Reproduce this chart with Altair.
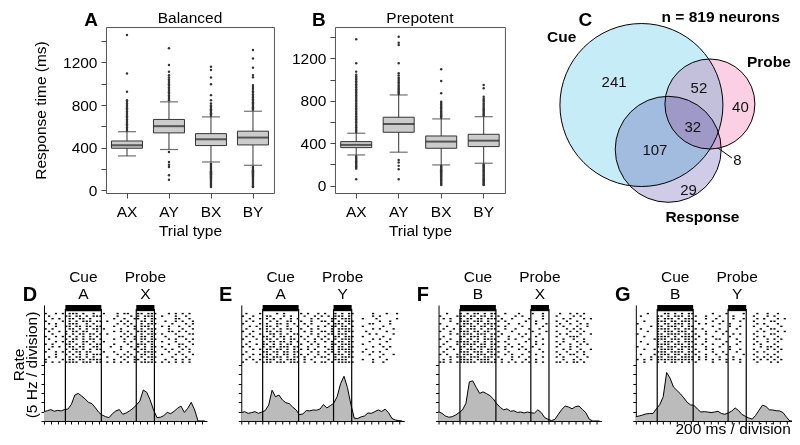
import altair as alt
import pandas as pd

FONT = "Liberation Sans"
FS = 15.5

# ---------------- Panels A & B : response times ----------------
trial_types = ["AX", "AY", "BX", "BY"]
rt_ticks = [0, 200, 400, 600, 800, 1000, 1200, 1400]

bal_q1 = [395, 539, 420, 426]
bal_median = [423, 602, 479, 495]
bal_q3 = [463, 665, 532, 555]
bal_lo = [323, 383, 266, 235]
bal_hi = [550, 830, 689, 742]
bal_out_ax = [560, 575, 590, 605, 620, 635, 650, 665, 680, 695, 710, 725, 740, 755,
              770, 785, 800, 815, 830, 846, 924, 1096, 1457]
bal_out_ay = [845, 860, 875, 890, 905, 920, 935, 950, 965, 980, 995, 1010, 1025, 1040,
              1059, 1080, 1112, 1175, 1332, 360, 266, 240, 219, 141, 100]
bal_out_bx = [700, 712, 724, 736, 748, 760, 772, 784, 796, 815, 846, 893, 996, 1059, 1128,
              1159, 250, 240, 230, 220, 210, 200, 190, 180, 170, 160, 150, 140, 130, 120,
              110, 100, 90, 80, 70, 60, 50, 40, 31]
bal_out_by = [755, 767, 779, 791, 803, 815, 827, 840, 855, 870, 885, 900, 915, 930, 950,
              970, 987, 1060, 1081, 1150, 1237, 1316, 219, 209, 199, 189, 179, 169, 159,
              149, 139, 129, 119, 109, 99, 89, 79, 69, 59, 49, 39, 31]

pre_q1 = [358, 503, 352, 368]
pre_median = [384, 581, 415, 424]
pre_q3 = [415, 645, 468, 484]
pre_lo = [289, 315, 195, 211]
pre_hi = [494, 855, 629, 650]
pre_out_ax = [505, 520, 535, 550, 565, 580, 595, 610, 625, 640, 655, 670, 685, 700, 715,
              730, 745, 760, 775, 790, 805, 820, 835, 850, 865, 880, 895, 910, 925, 940,
              955, 970, 985, 1000, 1015, 1030, 1045, 1075, 1155, 1380,
              278, 266, 254, 242, 230, 218, 206, 194, 182, 170, 160, 60]
pre_out_ay = [865, 878, 891, 904, 917, 930, 945, 960, 975, 990, 1005, 1020, 1040, 1059,
              1154, 1326, 1348, 1404, 242, 217, 186, 155, 60]
pre_out_bx = [640, 652, 664, 676, 688, 700, 712, 724, 736, 750, 765, 780, 792, 871, 987,
              1097, 185, 175, 165, 155, 145, 135, 125, 115, 105, 95, 85, 75, 65, 55, 45,
              35, 25, 15, 5]
pre_out_by = [660, 672, 684, 696, 708, 720, 732, 745, 760, 775, 790, 805, 820, 839, 918,
              949, 200, 190, 180, 170, 160, 150, 140, 130, 120, 110, 100, 90, 80, 70, 60,
              50, 40, 30, 20, 10, 5]

# ---------------- Panel C : Venn diagram ----------------
venn_sets = ["Cue", "Probe", "Response"]
venn_cx = [75.5, 144.0, 102.3]
venn_cy = [78.0, 77.0, 122.3]
venn_r = [81.5, 45.0, 53.0]
venn_fill = ["#c6ecf7", "#fbd0e4", "#d0cbe7"]
venn_counts = ["241", "52", "40", "32", "107", "29", "8"]
venn_count_x = [48.2, 133.0, 174.5, 126.8, 89.0, 122.7, 171.5]
venn_count_y = [54.7, 61.3, 79.7, 99.7, 123.0, 163.0, 133.0]
venn_names = ["Cue", "Probe", "Response", "n = 819 neurons"]
venn_name_x = [-4.3, 203.0, 136.5, 154.8]
venn_name_y = [14.7, 39.7, 195.0, -4.6]

# ---------------- Panels D-G : rasters and PSTHs ----------------
time_ms = list(range(0, 4800, 100))
time_ticks = list(range(0, 4601, 200))
rate_ticks = [0, 5, 10, 15, 20, 25, 30]
window_start = [625, 2695]
window_end = [1675, 3225]
window_name = ["Cue", "Probe"]

psth_D = [5.0, 5.5, 6.1, 5.2, 5.7, 5.4, 6.1, 6.4, 8.9, 13.9, 14.8, 13.4, 11.8, 10.0, 9.3, 7.1,
          4.6, 3.2, 2.3, 1.8, 3.9, 5.4, 6.1, 3.6, 4.3, 5.4, 6.8, 8.6, 10.7, 16.6, 15.4, 11.3,
          5.9, 1.8, 2.0, 2.9, 4.6, 3.9, 5.2, 6.8, 8.0, 4.6, 6.8, 10.0, 5.9, 0, 0, 0]
psth_E = [4.5, 5.0, 4.1, 4.5, 5.0, 4.1, 4.8, 5.6, 8.5, 16.5, 13.0, 13.9, 11.3, 9.8, 9.3, 7.5,
          5.9, 3.4, 3.8, 5.6, 5.4, 5.9, 5.8, 6.4, 8.8, 7.0, 8.2, 9.5, 13.0, 20.0, 24.0, 18.0,
          9.0, 1.5, 1.3, 2.2, 2.7, 4.3, 4.1, 5.0, 5.9, 5.1, 6.3, 4.5, 1.4, 0.5, 0.2, 0]
psth_F = [5.0, 4.1, 2.7, 2.0, 2.3, 3.2, 4.5, 5.9, 9.5, 21.0, 21.5, 18.0, 14.8, 15.6, 14.7, 13.6,
          11.8, 9.2, 7.3, 6.0, 6.5, 5.2, 5.5, 4.6, 4.8, 4.3, 4.8, 4.4, 4.2, 6.0, 4.5, 1.8,
          0.9, 0.2, 0.9, 3.6, 6.2, 8.0, 7.5, 6.5, 7.7, 8.0, 6.2, 4.5, 1.0, 0, 0, 0]
psth_G = [2.3, 2.7, 3.2, 3.8, 4.0, 4.0, 6.5, 8.8, 13.0, 26.0, 23.0, 18.2, 16.4, 14.6, 12.4, 10.0,
          8.6, 8.4, 6.4, 4.8, 5.0, 4.8, 4.5, 4.8, 5.2, 4.0, 3.6, 4.3, 5.3, 7.0, 5.6, 3.5,
          2.5, 1.6, 1.0, 3.0, 5.8, 8.5, 7.8, 6.0, 5.9, 5.5, 5.4, 4.5, 2.0, 0, 0, 0]

# one string per trial, one character per 100 ms bin ("x" = spike)
raster_D = [
    "x..x.x.x xx.x..x. .x...x.x x..xx.xx x...x.x. x.x.....",
    ".x....xx .xx.x.xx x....x.. .x.x.xxx ..x...x. .x......",
    "..x.x..x x.xx.x.. ....x..x ..xx.x.x x.....xx ..x.....",
    "x....x.x .x.xxx.x x.x...x. x...xx.x ...x..x. x..x....",
    ".x.x...x xx..x.x. .....x.x .x..x.xx x....x.. .x.x....",
    "...x..xx .xx.xx.x x...x... x.x.xxx. ..x.x..x ..x.....",
    "x.x....x x.x.x.xx .x....x. ..x.x.xx x...x... x..x....",
    ".x..x.x. xx.xx..x ....x.x. x..xxx.x ....xx.x .x......",
    "..x...x. x.xx.xx. x.x....x .x..x.xx x.x...x. ..xx....",
    "x..x.x.x .x.x.x.x ......x. x.x.xx.x ...x...x x.......",
    ".x....x. xx.x.xx. x...x..x ..x.xx.x x...x.x. .x.x....",
    "...x.x.x x..xx.x. .x.....x .x..x.xx ..x...x. ..x.....",
    "x.x...xx .x.x.x.x x...x... x..xxx.x ....x..x x..x....",
    "..x.x..x x.xx..xx ...x..x. .x.x.x.x x.x....x .x......",
    ".x....x. xx.x.x.x x.....x. ..x.xx.x ...x.x.. x.x.....",
    "x..x.x.x .xx.xx.. .x..x... x..x.xxx x...x..x ..x.....",
    "...x..x. x.x.x.xx x....x.x .x..xx.x ..x...x. x..x....",
    ".x.x...x .xx.x.x. ..x...x. x.x.x.xx x....x.. .x......",
    "x....x.x x.xx.xxx x...x..x ..xx.x.x ...x..x. x.x.....",
    "x.x.x.xx xx.xxx.x x.x.x.x. x.x.xxxx x.x.x.x. x.x.....",
]
raster_E = [
    ".x...x.. ..x.x... .x.x..x. x..x.x.x x.....x. ..x..x..",
    "x..x...x x...x.x. ..x..x.x .x.xxx.x ......x. x.......",
    "..x..x.x .x.x..x. x...x.x. ..xx.xxx ...x...x .....x..",
    ".x.x.... x.x..xx. .x..x..x x.x.x.xx x....... x..x....",
    "x....x.x ..xx.x.x ..x.x... .x.xxx.x .....xx. ...x....",
    "..x.x..x x.x..x.. x..x..x. x.xx.xx. x..x.... .x......",
    ".x...x.x .x.x.xx. .x..x.x. ..x.xxxx ......x. x...x...",
    "x..x...x x.xx..x. ..x.x..x x.x.x.xx x...x... ..x.....",
    "..x..x.. xx.x.x.x x...x.x. .xx.xxx. .....x.x ....x...",
    ".x.x..xx .x.xx.x. .x.x..x. x..xx.xx x..x.... .x......",
    "x...x..x x.x.x.xx ..x..x.x .x.x.xxx ......x. x..x....",
    "..x...x. xx.xx.x. x..x.x.. x.x.xx.x x....x.. ..x.....",
    ".x..x.xx .x.x.xx. .x..x.x. ..xx.xxx ...x.... x.......",
    "x.x...x. xx.xxx.x x..x..x. x.x.xx.x x.....x. .x.x....",
    "...x.x.x x.xx.x.x .x.x.x.. .xx.xxxx ....x... ..x.....",
    ".x....xx .xx.xx.x x...x.x. x.x.x.xx x..x..x. x.......",
    "x..x.x.x x.x.xx.x .x.x..x. .x.xxx.x .....x.. .x..x...",
    "..x...xx .xxx.x.x x.x..x.x x..x.xxx x....... x.......",
    ".x.x.x.x xx.x.xxx ..x.x... .x.xxxx. ...x..x. ..x.....",
    "x...x.xx x.xxx.xx x.x..x.x x.x.xxxx x.....x. .x......",
]
raster_F = [
    "..x...x. x.xx.x.x x..x...x ...x..x. ...x..x. x.x.....",
    "x....xxx .xx.xx.x .x....x. x.....x. ..x....x .x......",
    ".x.x..x. xx.xx.xx x.x..x.. ..x...x. ....x.x. ..x.x...",
    "...x..xx x.xxx.x. .x.x.... .x..x... ..x..x.. x.......",
    "x....x.x xx.x.xxx x...x..x ....x..x ...x..x. .x.x....",
    "..x...xx .xx.xx.x .x.x.... x.....x. ..x.x... x..x....",
    ".x..x.x. xxx.x.xx x..x..x. ..x..x.. .....x.x .x......",
    "x..x..xx x.xx.xx. .x...x.. ...x...x ..x...x. x.x.....",
    "...x.x.x xx.xxx.x x.x....x .x...x.. ...x.x.. .x..x...",
    ".x....xx .xxx.x.x .x..x... x...x... ..x...xx x.......",
    "x..x..x. xx.x.xxx x...x.x. ..x...x. ....x..x ..x.....",
    "..x..xxx x.xx.x.x .x.x.... .x..x... ..x.x... x.x.....",
    ".x...x.x xxx.xx.x x...x..x ....x.x. ...x..x. .x.x....",
    "x..x..xx .x.xxx.x .x.x.x.. x..x.... ..x...x. x.......",
    "..x.x.x. xxx.x.xx x..x...x .x...x.. ....x.x. .x..x...",
    ".x....xx x.xxx.xx .x..x... ..x...x. ..x..x.. x.x.....",
    "x.x..x.x xx.xxx.x x..x.x.. x...x... ...x..xx ..x.....",
    "...x.xxx .xxx.xxx .x...x.x ..x...x. ..x.x... x..x....",
    ".x.x..xx xx.xxxx. x.x..x.. .x..x... ....x..x .x......",
    "xx.x.xxx xxx.xxxx x.x.x.x. x.x.x.x. ..xx.x.x x.x.....",
]
raster_G = [
    "...x.... xx.x.x.x x.....x. ..x....x ...x..x. .x......",
    ".x....xx .x.xxx.x .x..x... x...x... ..x...x. x.......",
    "......x. xxx.x.xx x...x..x ....x..x ...x.x.. .x.x....",
    "..x...xx x.xx.xxx .x....x. .x....x. ..x....x x.......",
    "x.....x. xx.xxx.x ..x.x... x..x.... ...x.x.. .x......",
    "....x.xx .xxx.x.x x.....x. ...x..x. ..x...x. ..x.....",
    ".x....xx xx.xx.xx .x.x.... x....x.. ....x..x x.......",
    "...x..x. xxx.xxx. x...x..x ..x..... ...x.x.. .x.x....",
    "x.....xx .xxxx.xx .x..x... .x..x.x. ..x....x x.......",
    "..x...xx xx.x.xxx x.x...x. ...x.... ...x.x.. .x......",
    ".....xxx x.xxx.xx .x..x..x x....x.. ..x...x. x.x.....",
    ".x....x. xxx.x.xx x...x... ..x...x. ...x..x. .x......",
    "...x..xx xx.xxx.x .x.x..x. .x...x.. ..x.x... x.......",
    "x.....xx .xxx.xxx x...x... x..x.... ....x.xx .x......",
    "..x..x.x xxx.xx.x .x..x.x. ...x..x. ..x...x. x.x.....",
    "......xx x.xxxx.x x.x...x. .x...x.. ...x.x.. .x......",
    ".x...x.x xx.xx.xx .x..x..x ..x....x ..x...x. x.......",
    "....x.xx .xxx.xxx x.x.x... x...x... ...x.x.x .x......",
    "x.x.x.xx xxxxxxxx x.x.x.x. x.x.x.x. ..x.x.x. x.x.....",
    "..x...x. x.xx.x.x .x....x. ..x...x. ...x...x .x......",
]


# ---------------- helpers ----------------
def anchor(x, y):
    """Invisible 1x1 rect that pins the extent of the drawing."""
    d = pd.DataFrame({"a": [0]})
    return alt.Chart(d).mark_rect(opacity=0).encode(
        x=alt.value(x), x2=alt.value(x + 1), y=alt.value(y), y2=alt.value(y + 1))


def text_layer(s, x, y, size=FS, weight="normal", angle=0, align="center"):
    d = pd.DataFrame({"s": [s]})
    kw = dict(fontSize=size, fontWeight=weight, align=align, baseline="alphabetic", color="black")
    if angle:
        kw["angle"] = angle
    return alt.Chart(d).mark_text(**kw).encode(text="s:N", x=alt.value(x), y=alt.value(y))


def box_panel(q1, med, q3, lo, hi, outs, ydom, name, letter, letter_dx, ytitle, width):
    summary = pd.DataFrame({"type": trial_types, "q1": q1, "med": med, "q3": q3,
                            "lo": lo, "hi": hi})
    outliers = pd.DataFrame([{"type": t, "rt": v}
                             for t, vals in zip(trial_types, outs) for v in vals])
    xenc = alt.X("type:N", sort=trial_types, title="Trial type",
                 scale=alt.Scale(domain=trial_types, paddingInner=0, paddingOuter=0),
                 axis=alt.Axis(labelAngle=0, labelFontSize=FS, labelColor="black",
                               labelPadding=6.5, tickSize=5, tickColor="#444444",
                               domain=False, grid=False, titleFontSize=FS,
                               titleFontWeight="normal", titleColor="black",
                               titlePadding=4, bandPosition=0.5))
    ysc = alt.Scale(domain=ydom, nice=False, zero=False)
    yax = alt.Axis(values=rt_ticks, format="d",
                   labelExpr="datum.value % 400 == 0 ? datum.label : ''",
                   labelFontSize=FS, labelColor="black", labelPadding=4, tickSize=5,
                   tickColor="#444444", domain=False, grid=False, titleFontSize=FS,
                   titleFontWeight="normal", titleColor="black", titlePadding=14)

    def Y(f):
        return alt.Y(f, type="quantitative", scale=ysc, axis=yax, title=ytitle)

    base = alt.Chart(summary)
    whisk = base.mark_rule(color="#333333", strokeWidth=1).encode(x=xenc, y=Y("lo"), y2="hi")
    box = base.mark_bar(size=31, fill="#cccccc", stroke="#333333", strokeWidth=1).encode(
        x=xenc, y=Y("q1"), y2="q3")
    median = base.mark_tick(size=31, thickness=2, color="#222222").encode(x=xenc, y=Y("med"))
    cap_lo = base.mark_tick(size=18, thickness=1.2, color="#333333").encode(x=xenc, y=Y("lo"))
    cap_hi = base.mark_tick(size=18, thickness=1.2, color="#333333").encode(x=xenc, y=Y("hi"))
    dots = alt.Chart(outliers).mark_circle(size=6, color="#333333", opacity=1).encode(
        x=xenc, y=Y("rt"))
    return alt.layer(
        whisk, box, median, cap_lo, cap_hi, dots,
        text_layer(letter, letter_dx, -1.5, size=19, weight="bold"),
        text_layer(name, width / 2, -4.5),
    ).properties(width=width, height=166,
                 view=alt.ViewBackground(stroke="#555555", strokeWidth=1))


def venn_panel():
    xsc = alt.Scale(domain=[0, 230], nice=False, zero=False)
    ysc = alt.Scale(domain=[0, 166], nice=False, zero=False, reverse=True)
    circles = pd.DataFrame({"set": venn_sets, "cx": venn_cx, "cy": venn_cy,
                            "size": [(2 * r) ** 2 for r in venn_r], "fill": venn_fill})
    counts = pd.DataFrame({"s": venn_counts, "cx": venn_count_x, "cy": venn_count_y})
    names = pd.DataFrame({"s": venn_names, "cx": venn_name_x, "cy": venn_name_y})
    letter = pd.DataFrame({"s": ["C"], "cx": [19.5], "cy": [-1.5]})
    leader = pd.DataFrame({"x1": [152], "y1": [121], "x2": [166], "y2": [131]})
    X = lambda f: alt.X(f, type="quantitative", scale=xsc, axis=None)
    Yv = lambda f: alt.Y(f, type="quantitative", scale=ysc, axis=None)
    circ = alt.Chart(circles).mark_circle(opacity=1, fillOpacity=1, stroke="black",
                                          strokeWidth=1, blend="multiply").encode(
        x=X("cx"), y=Yv("cy"), size=alt.Size("size:Q", scale=None),
        color=alt.Color("fill:N", scale=None))
    cnt = alt.Chart(counts).mark_text(fontSize=15, color="#111111", baseline="middle").encode(
        x=X("cx"), y=Yv("cy"), text="s:N")
    nm = alt.Chart(names).mark_text(fontSize=FS, fontWeight="bold", color="black",
                                    baseline="alphabetic").encode(
        x=X("cx"), y=Yv("cy"), text="s:N")
    lt = alt.Chart(letter).mark_text(fontSize=19, fontWeight="bold", color="black",
                                     baseline="alphabetic").encode(
        x=X("cx"), y=Yv("cy"), text="s:N")
    ld = alt.Chart(leader).mark_rule(color="black", strokeWidth=1).encode(
        x=X("x1"), y=Yv("y1"), x2="x2", y2="y2")
    return alt.layer(circ, ld, cnt, nm, lt).properties(width=230, height=166)


def raster_panel(psth, rows, cue_letter, probe_letter, letter, letter_dx, extras):
    xsc = alt.Scale(domain=[0, 4760], nice=False, zero=False)
    ysc = alt.Scale(domain=[0, 62.2], nice=False, zero=False)
    xax = alt.Axis(values=time_ticks, labels=False, tickSize=3, tickColor="black",
                   domainColor="black", grid=False, title=None)
    yax = alt.Axis(values=rate_ticks, labels=False, tickSize=3, tickColor="black",
                   domainColor="black", grid=False, title=None)
    X = lambda f: alt.X(f, type="quantitative", scale=xsc, axis=xax, title=None)
    Y = lambda f: alt.Y(f, type="quantitative", scale=ysc, axis=yax, title=None)

    psth_df = pd.DataFrame({"t": time_ms, "rate": psth})
    spikes = []
    for i, row in enumerate(rows):
        for j, c in enumerate(row.replace(" ", "")):
            if c == "x":
                spikes.append({"t": j * 100 + 50, "row": 57.6 - i * 1.37})
    spk = pd.DataFrame(spikes)
    edges = pd.DataFrame({"t": window_start + window_end, "lo": [0] * 4, "hi": [60] * 4})
    bars = pd.DataFrame({"start": window_start, "end": window_end,
                         "lo": [58.9, 58.9], "hi": [62.2, 62.2]})
    labels = pd.DataFrame({"t": [(a + b) / 2 for a, b in zip(window_start, window_end)],
                           "name": window_name, "stim": [cue_letter, probe_letter]})

    area = alt.Chart(psth_df).mark_area(color="#bbbbbb", opacity=1).encode(
        x=X("t"), y=Y("rate"))
    line = alt.Chart(psth_df).mark_line(color="black", strokeWidth=1).encode(
        x=X("t"), y=Y("rate"))
    ticks = alt.Chart(spk).mark_tick(orient="vertical", thickness=2.2, size=1.4,
                                     color="black", opacity=1).encode(x=X("t"), y=Y("row"))
    rules = alt.Chart(edges).mark_rule(color="black", strokeWidth=1.2).encode(
        x=X("t"), y=Y("lo"), y2="hi")
    rects = alt.Chart(bars).mark_rect(color="black").encode(
        x=X("start"), x2="end", y=Y("lo"), y2="hi")
    lab1 = alt.Chart(labels).mark_text(fontSize=FS, color="black", baseline="alphabetic").encode(
        x=X("t"), y=alt.value(-23.3), text="name:N")
    lab2 = alt.Chart(labels).mark_text(fontSize=FS, color="black", baseline="alphabetic").encode(
        x=X("t"), y=alt.value(-5.7), text="stim:N")
    layers = [area, line, ticks, rules, rects, lab1, lab2,
              text_layer(letter, letter_dx, -3.5, size=20, weight="bold")] + extras
    return alt.layer(*layers).properties(width=163, height=116)


# ---------------- assemble ----------------
spacer = alt.layer(anchor(-40, -28), anchor(-40, 214)).properties(width=1, height=166)

panel_A = box_panel(bal_q1, bal_median, bal_q3, bal_lo, bal_hi,
                    [bal_out_ax, bal_out_ay, bal_out_bx, bal_out_by], [-25, 1532],
                    "Balanced", "A", -15, "Response time (ms)", 168)
panel_B = box_panel(pre_q1, pre_median, pre_q3, pre_lo, pre_hi,
                    [pre_out_ax, pre_out_ay, pre_out_bx, pre_out_by], [-70, 1496],
                    "Prepotent", "B", -16, None, 170)
panel_C = venn_panel()

panel_D = raster_panel(psth_D, raster_D, "A", "X", "D", -14,
                       [anchor(-40, -50), anchor(0, 134),
                        text_layer("Rate", -20, 60, angle=270),
                        text_layer("(5 Hz / division)", -6.5, 60, angle=270)])
panel_E = raster_panel(psth_E, raster_E, "A", "Y", "E", -15.5, [])
panel_F = raster_panel(psth_F, raster_F, "B", "X", "F", -15.6, [])
panel_G = raster_panel(psth_G, raster_G, "B", "Y", "G", -13.1,
                       [anchor(164, 0),
                        text_layer("200 ms / division", 155, 129, align="right")])

top = alt.hconcat(spacer, panel_A, panel_B, panel_C, spacing=61, bounds="flush")
bottom = alt.hconcat(panel_D, panel_E, panel_F, panel_G, spacing=34.3, bounds="flush")

chart = alt.vconcat(top, bottom, spacing=13).properties(
    padding={"left": -4, "top": -9, "right": -8.9, "bottom": -3}
).configure(font=FONT).configure_view(stroke=None)

chart.save("out.html", embed_options={"renderer": "svg", "actions": False})
